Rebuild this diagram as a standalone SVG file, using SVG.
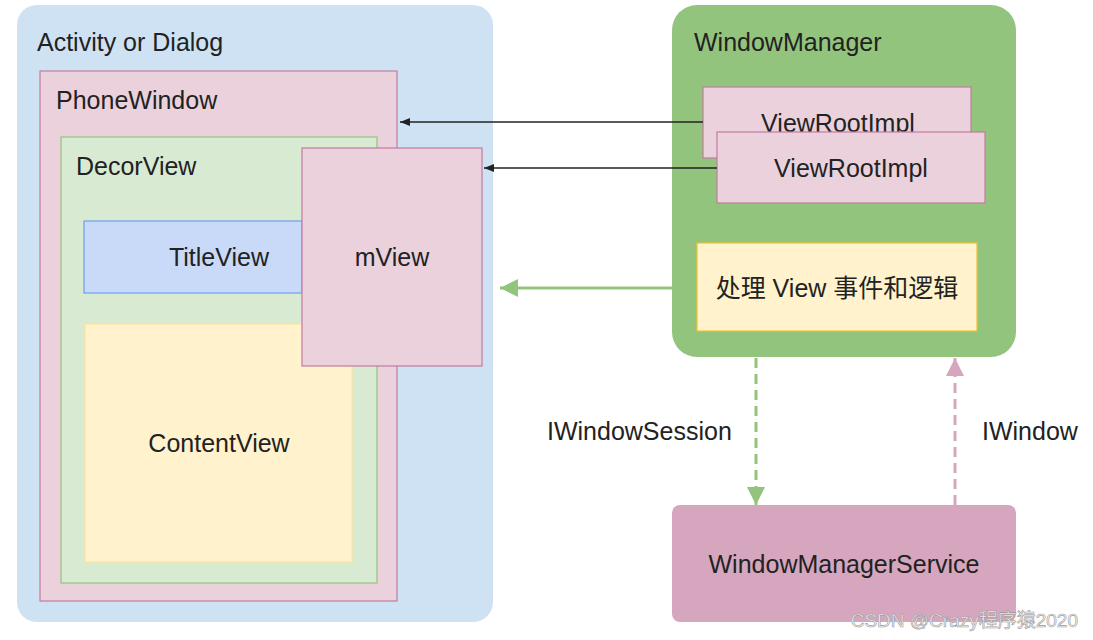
<svg xmlns="http://www.w3.org/2000/svg" width="1093" height="640" viewBox="0 0 1093 640">
<style>
text{font-family:"Liberation Sans",Arial,"Noto Sans CJK SC",sans-serif;font-size:25px;fill:#222}
.pink{fill:#ead1dc;stroke:#c27ba0;stroke-width:1.2}
.c{text-anchor:middle}
</style>
<defs>
<marker id="blk" viewBox="0 0 10 10" refX="10" refY="5" markerWidth="10" markerHeight="10" markerUnits="userSpaceOnUse" orient="auto"><path d="M0,1 L10,5 L0,9 z" fill="#222"/></marker>
<marker id="grn" viewBox="0 0 10 10" refX="10" refY="5" markerWidth="18" markerHeight="18" markerUnits="userSpaceOnUse" orient="auto"><path d="M0,0 L10,5 L0,10 z" fill="#93c47d"/></marker>
<marker id="pnk" viewBox="0 0 10 10" refX="10" refY="5" markerWidth="18" markerHeight="18" markerUnits="userSpaceOnUse" orient="auto"><path d="M0,0 L10,5 L0,10 z" fill="#d5a6bd"/></marker>
</defs>
<rect width="1093" height="640" fill="#fff"/>
<g id="activity">
<rect x="17" y="5" width="476" height="617" rx="20" fill="#cfe2f3"/>
<text x="37" y="51">Activity or Dialog</text>
</g>
<g id="phonewindow">
<rect class="pink" x="40" y="71" width="357" height="530"/>
<text x="56" y="109">PhoneWindow</text>
</g>
<g id="decorview">
<rect x="61" y="137" width="316" height="446" fill="#d9ead3" stroke="#93c47d" stroke-width="1.2"/>
<text x="76" y="175">DecorView</text>
</g>
<g id="titleview">
<rect x="84" y="221" width="218" height="72" fill="#c9daf8" stroke="#6d9eeb" stroke-width="1.2"/>
<text class="c" x="219" y="266">TitleView</text>
</g>
<g id="contentview">
<rect x="85" y="324" width="267" height="238" fill="#fff2cc" stroke="#ffe599" stroke-width="1.2"/>
<text class="c" x="219" y="452">ContentView</text>
</g>
<g id="mview">
<rect class="pink" x="302" y="148" width="180" height="218"/>
<text class="c" x="392" y="266">mView</text>
</g>
<g id="windowmanager">
<rect x="672" y="5" width="344" height="352" rx="25" fill="#93c47d"/>
<text x="694" y="51">WindowManager</text>
</g>
<g id="viewrootimpl1">
<rect class="pink" x="703" y="87" width="268" height="71"/>
<text class="c" x="838" y="132">ViewRootImpl</text>
</g>
<g id="viewrootimpl2">
<rect class="pink" x="717" y="132" width="268" height="71"/>
<text class="c" x="851" y="177">ViewRootImpl</text>
</g>
<g id="logic">
<rect x="697" y="243" width="280" height="88" fill="#fff2cc" stroke="#f1c232" stroke-width="1.2"/>
<text class="c" x="837" y="297">处理 View 事件和逻辑</text>
</g>
<g id="wms">
<rect x="672" y="505" width="344" height="117" rx="8" fill="#d5a6bd"/>
<text class="c" x="844" y="573">WindowManagerService</text>
</g>
<g id="connectors">
<line x1="703" y1="122" x2="400" y2="122" stroke="#222" stroke-width="1.3" marker-end="url(#blk)"/>
<line x1="717" y1="168" x2="484" y2="168" stroke="#222" stroke-width="1.3" marker-end="url(#blk)"/>
<line x1="672" y1="288" x2="500" y2="288" stroke="#93c47d" stroke-width="3" marker-end="url(#grn)"/>
<line x1="756" y1="358" x2="756" y2="505" stroke="#93c47d" stroke-width="3" stroke-dasharray="10,6" marker-end="url(#grn)"/>
<line x1="955" y1="505" x2="955" y2="358" stroke="#d5a6bd" stroke-width="3" stroke-dasharray="10,6" marker-end="url(#pnk)"/>
<text x="547" y="440">IWindowSession</text>
<text x="982" y="440">IWindow</text>
</g>
<text x="1078" y="627" text-anchor="end" style="font-size:19px;fill:#f4f4f4;stroke:#999;stroke-width:0.6">CSDN @Crazy程序猿2020</text>
</svg>
